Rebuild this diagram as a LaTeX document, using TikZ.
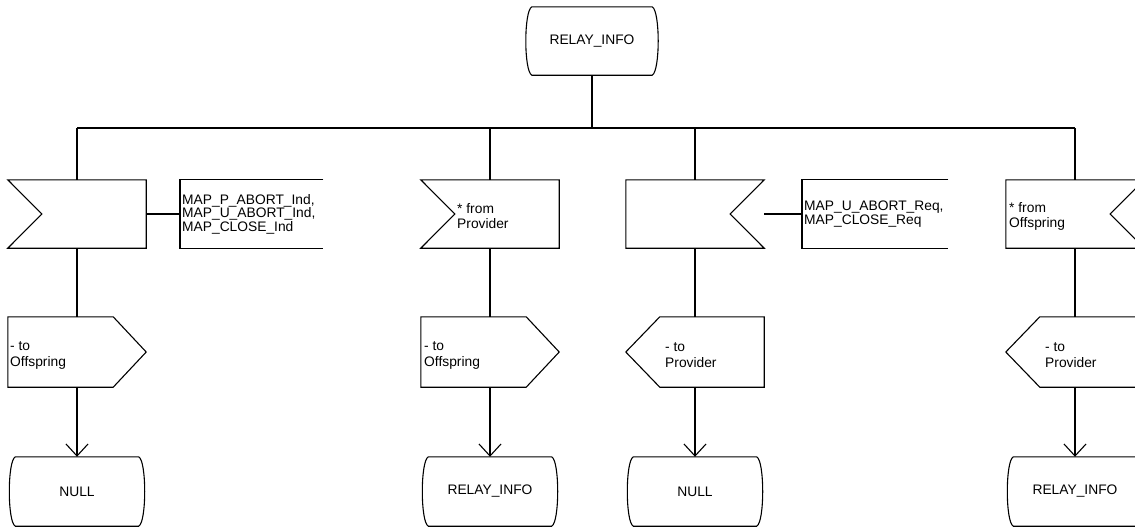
\documentclass[tikz,border=0pt]{standalone}
\usepackage{fontspec}
\setmainfont{Liberation Sans}
\usetikzlibrary{calc,arrows.meta}
\tikzset{
  every picture/.style={x=1pt,y=-1pt},
  ln/.style={line width=1.1pt,black},
  box/.style={draw=none,inner sep=0pt,minimum width=138pt,minimum height=68pt},
  obox/.style={draw=none,inner sep=0pt,minimum width=138pt,minimum height=70pt},
  sbox/.style={draw=none,inner sep=0pt,minimum width=137pt,minimum height=69pt,font=\fontsize{13.8}{14}\selectfont},
  txt/.style={inner sep=0pt,anchor=west,align=left,font=\fontsize{13.8}{15}\selectfont},
  otxt/.style={txt,font=\fontsize{13.8}{16}\selectfont},
  cmt/.style={inner xsep=2pt,inner ysep=0pt,anchor=west,align=left,minimum height=68pt,font=\fontsize{13.8}{13.5}\selectfont},
  arr/.style={ln,-{Straight Barb[length=12pt,width=22pt,line width=1.1pt]}}
}
\newcommand{\stateshape}[1]{%
  \draw[ln] ($(#1.north west)+(7,0)$) -- ($(#1.north east)+(-7,0)$)
    .. controls ($(#1.north east)+(1,4)$) and ($(#1.south east)+(1,-4)$) .. ($(#1.south east)+(-7,0)$)
    -- ($(#1.south west)+(7,0)$)
    .. controls ($(#1.south west)+(-1,-4)$) and ($(#1.north west)+(-1,4)$) .. cycle;}
\newcommand{\inleft}[1]{%
  \draw[ln] (#1.north west) -- (#1.north east) -- (#1.south east) -- (#1.south west) -- ($(#1.west)+(34,0)$) -- cycle;}
\newcommand{\inright}[1]{%
  \draw[ln] (#1.north west) -- (#1.north east) -- ($(#1.east)+(-34,0)$) -- (#1.south east) -- (#1.south west) -- cycle;}
\newcommand{\outright}[1]{%
  \draw[ln] (#1.north west) -- ($(#1.north east)+(-33,0)$) -- (#1.east) -- ($(#1.south east)+(-33,0)$) -- (#1.south west) -- cycle;}
\newcommand{\outleft}[1]{%
  \draw[ln] ($(#1.north west)+(34,0)$) -- (#1.north east) -- (#1.south east) -- ($(#1.south west)+(34,0)$) -- (#1.west) -- cycle;}
\begin{document}
\begin{tikzpicture}
\useasboundingbox (0,0) rectangle (1135,528);
\clip (0,0) rectangle (1135,528);
% top state
\node[sbox,minimum width=134pt,minimum height=68pt] (s0) at (592,41) {RELAY\_INFO};
\stateshape{s0}
\coordinate (bL) at (77,128);
\coordinate (bR) at (1075,128);
\draw[ln,line width=1.5pt] (s0.south) -- (s0.south |- bL);
\draw[ln] (bL) -- (bR);
% inputs
\node[box] (i1) at (77,214) {};
\node[box] (i2) at (490,214) {};
\node[box] (i3) at (695,214) {};
\node[box] (i4) at (1075,214) {};
\inleft{i1}\inleft{i2}\inright{i3}\inright{i4}
\node[txt] (t2) at (457,216) {* from\\Provider};
\node[txt] (t4) at (1009,216) {* from\\Offspring};
% comments
\node[cmt,text width=139pt] (c1) at (180,214) {MAP\_P\_ABORT\_Ind,\\MAP\_U\_ABORT\_Ind,\\MAP\_CLOSE\_Ind};
\draw[ln] (c1.north east) -- (c1.north west) -- (c1.south west) -- (c1.south east);
\draw[ln] (i1.east) -- (c1.west);
\node[cmt,text width=142pt] (c3) at (802,214) {MAP\_U\_ABORT\_Req,\\MAP\_CLOSE\_Req};
\draw[ln] (c3.north east) -- (c3.north west) -- (c3.south west) -- (c3.south east);
\draw[ln] (i3.east) -- (c3.west);
% outputs
\node[obox] (o1) at (77,352) {};
\node[obox] (o2) at (490,352) {};
\node[obox] (o3) at (695,352) {};
\node[obox] (o4) at (1075,352) {};
\outright{o1}\outright{o2}\outleft{o3}\outleft{o4}
\node[otxt] (u1) at (10,355) {- to\\Offspring};
\node[otxt] (u2) at (424,355) {- to\\Offspring};
\node[otxt] (u3) at (665,355) {- to\\Provider};
\node[otxt] (u4) at (1045,355) {- to\\Provider};
% end states
\node[sbox] (s1) at (77,491.5) {NULL};
\node[sbox] (s2) at (490,491.5) {RELAY\_INFO};
\node[sbox] (s3) at (695,491.5) {NULL};
\node[sbox] (s4) at (1075,491.5) {RELAY\_INFO};
\stateshape{s1}\stateshape{s2}\stateshape{s3}\stateshape{s4}
% connectors
\foreach \k in {1,2,3,4}{
  \draw[ln] (i\k.north |- bL) -- (i\k.north);
  \draw[ln] (i\k.south) -- (o\k.north);
  \draw[arr] (o\k.south) -- (s\k.north);
}
\end{tikzpicture}
\end{document}
